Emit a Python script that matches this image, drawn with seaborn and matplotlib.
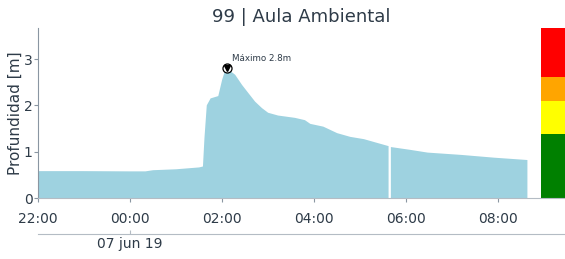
import numpy as np
import pandas as pd
import seaborn as sns
import matplotlib
matplotlib.use("Agg")
import matplotlib.pyplot as plt
import matplotlib.dates as mdates

# level readings (depth in m), NaN marks the missing sample
times = ["2019-06-06 22:00", "2019-06-06 23:00", "2019-06-07 00:00", "2019-06-07 00:20",
         "2019-06-07 00:30", "2019-06-07 01:00", "2019-06-07 01:30", "2019-06-07 01:35",
         "2019-06-07 01:37", "2019-06-07 01:40", "2019-06-07 01:45", "2019-06-07 01:55",
         "2019-06-07 02:00", "2019-06-07 02:04", "2019-06-07 02:06", "2019-06-07 02:17",
         "2019-06-07 02:26", "2019-06-07 02:34", "2019-06-07 02:43", "2019-06-07 02:52",
         "2019-06-07 03:00", "2019-06-07 03:13", "2019-06-07 03:35", "2019-06-07 03:48",
         "2019-06-07 03:55", "2019-06-07 04:12", "2019-06-07 04:30", "2019-06-07 04:47",
         "2019-06-07 05:05", "2019-06-07 05:22", "2019-06-07 05:37", "2019-06-07 05:38",
         "2019-06-07 05:40", "2019-06-07 06:05", "2019-06-07 06:28", "2019-06-07 07:12",
         "2019-06-07 07:55", "2019-06-07 08:38"]
depth = [0.58, 0.58, 0.575, 0.575,
         0.60, 0.62, 0.66, 0.68,
         1.30, 2.00, 2.15, 2.20,
         2.55, 2.76, 2.80, 2.66,
         2.44, 2.27, 2.08, 1.94,
         1.84, 1.78, 1.73, 1.68,
         1.60, 1.54, 1.40, 1.32,
         1.27, 1.19, 1.12, np.nan,
         1.10, 1.04, 0.98, 0.93,
         0.87, 0.82]

# alert thresholds (m) and their colours
levels = [0.0, 1.38, 2.09, 2.61, 3.67]
level_colors = ["#008000", "#ffff00", "#ffa500", "#ff0000"]

title = "99 | Aula Ambiental"
peak_label = "Máximo 2.8m"
x_start, x_end = "2019-06-06 22:00", "2019-06-07 09:27"

df = pd.DataFrame({"time": pd.to_datetime(times), "depth": depth})

sns.set_style("ticks")
text_color = "#2e3b48"
plt.rcParams["font.family"] = ["DejaVu Sans"]

fig = plt.figure(figsize=(5.65, 2.59), dpi=100)
ax = fig.add_axes([0.0673, 0.2355, 0.9327, 0.6565])

fill_color = "#9ed2e0"
ax.fill_between(df["time"], 0, np.ma.masked_invalid(df["depth"]),
                color=fill_color, lw=0)

# peak marker
peak = df.loc[df["depth"].idxmax()]
ax.plot(peak["time"], peak["depth"], "o", ms=6.5, mfc="white", mec="black", mew=0.9)
ax.plot(peak["time"], peak["depth"], "v", ms=4, color="black")
ax.annotate(peak_label, (peak["time"], peak["depth"]), xytext=(4, 5),
            textcoords="offset points", fontsize=6.3, color=text_color)

# alert colour bar at the right edge
for lo, hi, c in zip(levels[:-1], levels[1:], level_colors):
    ax.axhspan(lo, hi, xmin=0.955, xmax=1.0, color=c, lw=0)

ax.set_xlim(pd.Timestamp(x_start), pd.Timestamp(x_end))
ax.set_ylim(levels[0], levels[-1])
ax.set_yticks([0, 1, 2, 3])
ax.xaxis.set_major_locator(mdates.HourLocator(byhour=range(0, 24, 2)))
ax.xaxis.set_major_formatter(mdates.DateFormatter("%H:%M"))
ax.set_ylabel("Profundidad [m]", fontsize=11, color=text_color, labelpad=0.5)
ax.set_title(title, fontsize=13, color=text_color, pad=4)
ax.tick_params(labelsize=10, colors="#8a96a2", labelcolor=text_color, length=3)
ax.tick_params(axis="x", pad=7)
ax.tick_params(axis="y", pad=1)

for s in ["top", "right"]:
    ax.spines[s].set_visible(False)
ax.spines["left"].set_color("#8a96a2")
ax.spines["bottom"].set_color("#b4bcc4")

# date axis below
sec = ax.secondary_xaxis(-0.212)
sec.xaxis.set_major_locator(mdates.DayLocator())
sec.xaxis.set_major_formatter(mdates.DateFormatter("%d jun %y"))
sec.tick_params(labelsize=10, colors="#b4bcc4", labelcolor=text_color,
                length=3, direction="in", pad=2)
sec.spines["bottom"].set_color("#b4bcc4")

fig.savefig("out.png", dpi=100)
